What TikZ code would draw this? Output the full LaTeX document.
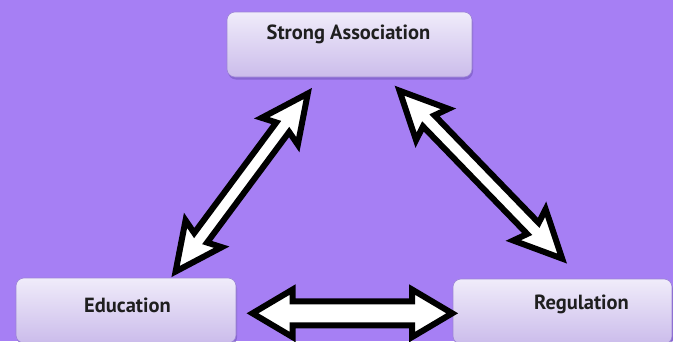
\documentclass[tikz,border=0pt]{standalone}
\usepackage{fontspec}
\setmainfont{PT Sans}
\usetikzlibrary{calc,shadows}
\definecolor{bgpurple}{HTML}{A67FF4}
\definecolor{boxtop}{HTML}{F0ECFA}
\definecolor{boxbottom}{HTML}{CBBCEB}
\definecolor{boxline}{HTML}{9C84D6}
\definecolor{boxshadow}{HTML}{7A5CC4}
\tikzset{
  box/.style={draw=boxline, line width=0.6pt, rounded corners=8pt,
    top color=boxtop, bottom color=boxbottom, minimum height=65pt, inner sep=0pt,
    drop shadow={shadow xshift=1pt, shadow yshift=-2.5pt, fill=boxshadow, opacity=0.7}},
  boxtext/.style={font=\bfseries\fontsize{20.5}{24}\selectfont, text=black!88,
    anchor=base, inner sep=0pt},
  blockline/.style={draw=black, fill=white, line width=6pt, line join=miter, miter limit=20}
}
% block double arrow: from, to, shaft half width, head half width, head length, barb sweep
\newcommand\blockarrow[6]{%
  \draw[blockline] let \p1=(#1), \p2=(#2),
    \n1={atan2(\y2-\y1,\x2-\x1)}, \n2={veclen(\x2-\x1,\y2-\y1)} in
    [shift={(\p1)}, rotate=\n1]
    (0,0) -- (#5+#6,#4) -- (#5,#3) -- (\n2-#5,#3) -- (\n2-#5-#6,#4) -- (\n2,0)
    -- (\n2-#5-#6,-#4) -- (\n2-#5,-#3) -- (#5,-#3) -- (#5+#6,-#4) -- cycle;}
\begin{document}
\begin{tikzpicture}[x=1pt,y=-1pt]
  \fill[bgpurple] (0,0) rectangle (673,341);
  \useasboundingbox (0,0) rectangle (673,341);
  % boxes
  \node[box, minimum width=245pt] (sa) at (349.5,44.5) {};
  \node[box, minimum width=220pt] (edu) at (126,310.5) {};
  \node[box, minimum width=219pt] (reg) at (562.5,311.5) {};
  \node[boxtext] (sa-t) at (348.5,39) {Strong Association};
  \node[boxtext] (edu-t) at (127.5,312) {Education};
  \node[boxtext] (reg-t) at (581.5,309) {Regulation};
  % arrow ends
  \coordinate (sa-w) at (307.8,93.5);
  \coordinate (sa-e) at (399.5,90.7);
  \coordinate (edu-n) at (175.6,271.5);
  \coordinate (edu-e) at (252.5,313.3);
  \coordinate (reg-n) at (562.2,258.6);
  \coordinate (reg-w) at (452.2,313.3);
  % connectors
  \blockarrow{edu-n}{sa-w}{8}{22.5}{42}{5}
  \blockarrow{sa-e}{reg-n}{8}{22.5}{42}{5}
  \blockarrow{edu-e}{reg-w}{12}{23.7}{40}{0}
\end{tikzpicture}
\end{document}
